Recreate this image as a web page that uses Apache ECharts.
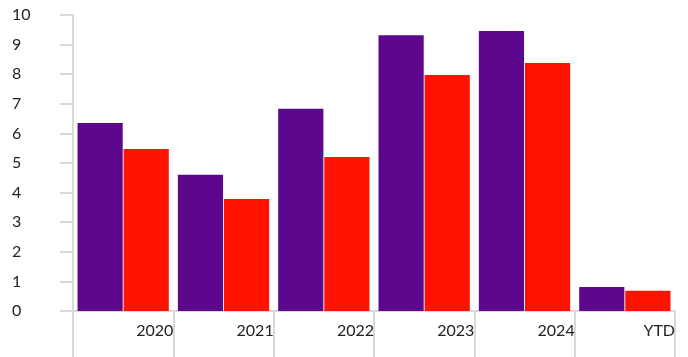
<!DOCTYPE html>
<html><head><meta charset="utf-8">
<script src="https://cdn.jsdelivr.net/npm/echarts@6/dist/echarts.min.js"></script>
<style>html,body{margin:0;padding:0;background:#fff}#c{width:688px;height:357px}</style>
</head><body><div id="c"></div>
<script>
const categories = ['2020','2021','2022','2023','2024','YTD'];
const seriesA = [6.35, 4.6, 6.83, 9.32, 9.46, 0.81];
const seriesB = [5.47, 3.78, 5.2, 7.97, 8.38, 0.68];
const yTicks = [0,1,2,3,4,5,6,7,8,9,10];

const chart = echarts.init(document.getElementById('c'), null, {renderer:'canvas'});
const axisColor = '#d9d9d9';
const font = 'Lato';
chart.setOption({
  animation:false,
  grid:{left:73, right:13, top:15, bottom:46, containLabel:false},
  xAxis:[{
    type:'category', data:categories, boundaryGap:true,
    axisLine:{show:true, lineStyle:{color:axisColor, width:2}},
    axisTick:{show:true, interval:0, length:46, lineStyle:{color:axisColor, width:2}},
    axisLabel:{show:false}
  },{
    type:'value', min:0, max:categories.length, interval:1, position:'bottom',
    axisLine:{show:false}, axisTick:{show:false}, splitLine:{show:false},
    axisLabel:{show:true, align:'right', margin:12, fontFamily:font, fontSize:16, color:'#222',
      formatter:v => v>=1 ? categories[v-1] : ''}
  }],
  yAxis:{
    type:'value', min:yTicks[0], max:yTicks[yTicks.length-1], interval:1,
    axisLine:{show:true, lineStyle:{color:axisColor, width:2}},
    axisTick:{show:true, length:13, lineStyle:{color:axisColor, width:2}},
    splitLine:{show:false},
    axisLabel:{align:'left', margin:61, fontFamily:font, fontSize:16, color:'#222'}
  },
  series:[
    {type:'bar', data:seriesA, xAxisIndex:0, itemStyle:{color:'#5c078c'}, barGap:'2%', barCategoryGap:'9%'},
    {type:'bar', data:seriesB, xAxisIndex:0, itemStyle:{color:'#ff1200'}, barGap:'2%', barCategoryGap:'9%'}
  ]
});
</script></body></html>
